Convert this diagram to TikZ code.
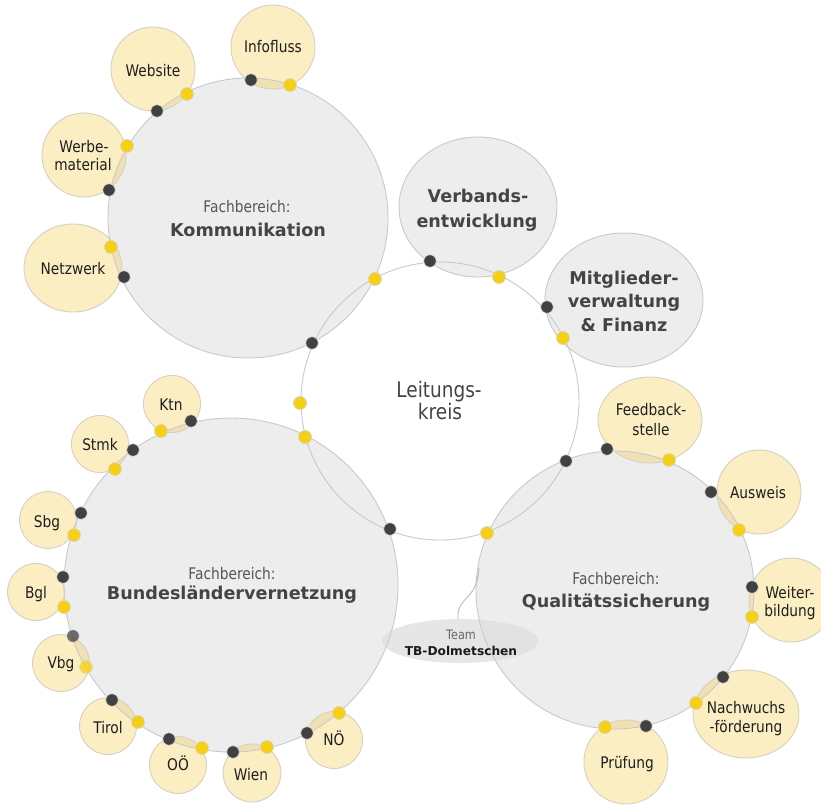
\documentclass[tikz,border=0pt]{standalone}
\usepackage{fontspec}
\setmainfont{DejaVu Sans}
\newfontfamily\regf[FakeStretch=0.86]{DejaVu Sans}
\usetikzlibrary{shapes.geometric}
\definecolor{mainfill}{HTML}{EDEDED}
\definecolor{mainline}{HTML}{C9C9C9}
\definecolor{satfill}{HTML}{FCEEC3}
\definecolor{satline}{HTML}{D5D0C2}
\definecolor{lensc}{HTML}{F0E1B5}
\definecolor{dotdark}{HTML}{414141}
\definecolor{dotyel}{HTML}{F5D016}
\definecolor{dotrim}{HTML}{D8D8D8}
\definecolor{tbfill}{HTML}{E0E0E0}
\definecolor{txtdark}{HTML}{444444}
\definecolor{txtmid}{HTML}{555555}
\definecolor{txtsat}{HTML}{1E1E1E}
\definecolor{connc}{HTML}{BBBBBB}
\newcommand\lensat[6]{\begin{scope}\clip (#1) ellipse[x radius=#2pt,y radius=#3pt];\fill[lensc] (#4) ellipse[x radius=#5pt,y radius=#6pt];\end{scope}}
\newcommand\dotD[1]{\path[ddot] (#1) circle[radius=6.2pt];}
\newcommand\dotY[1]{\path[ydot] (#1) circle[radius=6.6pt];}
\begin{document}
\begin{tikzpicture}[x=1pt,y=-1pt,
  ddot/.style={fill=dotdark,draw=dotrim,line width=0.6pt},
  ydot/.style={fill=dotyel,draw=dotrim,line width=0.6pt},
  mainc/.style={draw=mainline,line width=0.9pt},
  satc/.style={draw=satline,line width=0.9pt},
  lab/.style={anchor=base,inner sep=0pt,text=txtsat,font=\regf\fontsize{16}{19}\selectfont},
  fach/.style={anchor=base,inner sep=0pt,text=txtmid,font=\regf\fontsize{16}{19}\selectfont},
  title/.style={anchor=base,inner sep=0pt,text=txtdark,font=\bfseries\fontsize{17.6}{21}\selectfont},
  lkreis/.style={anchor=base,inner sep=0pt,text=txtdark,font=\regf\fontsize{21.5}{23}\selectfont},
  conn/.style={draw=connc,line width=0.9pt}]
\useasboundingbox (0,0) rectangle (821,804);
\clip (0,0) rectangle (821,804);
% centres
\coordinate (K) at (248,218);
\coordinate (L) at (440,401);
\coordinate (V) at (478,207);
\coordinate (M) at (624,300);
\coordinate (B) at (231,585);
\coordinate (Q) at (615,590);
\coordinate (Info) at (273,47);
\coordinate (Web) at (153,69);
\coordinate (Werb) at (84,155);
\coordinate (Netz) at (73,268);
\coordinate (Ktn) at (172,404);
\coordinate (Stmk) at (100,444);
\coordinate (Sbg) at (48,520);
\coordinate (Bgl) at (36,592);
\coordinate (Vbg) at (61,663);
\coordinate (Tirol) at (108,726);
\coordinate (OO) at (178,765);
\coordinate (Wien) at (252,773);
\coordinate (NO) at (334,740);
\coordinate (Feed) at (650,420);
\coordinate (Ausw) at (759,492);
\coordinate (Weit) at (791,600);
\coordinate (Nach) at (746,714);
\coordinate (Pruef) at (626,762);
% main fills
\fill[white] (L) circle[radius=139pt];
\fill[mainfill] (K) circle[radius=140pt];
\fill[mainfill] (B) circle[radius=167pt];
\fill[mainfill] (Q) circle[radius=139pt];
\fill[mainfill] (V) ellipse[x radius=79pt,y radius=70pt];
\fill[mainfill] (M) ellipse[x radius=79pt,y radius=67pt];
\node[ellipse,minimum width=156pt,minimum height=44pt,inner sep=0pt,fill=tbfill,fill opacity=0.8] (team) at (460,641) {};
% satellite fills
\foreach \c in {Info,Web,Werb,Ausw,Weit,Pruef} {\fill[satfill] (\c) circle[radius=42pt];}
\foreach \c in {Ktn,Stmk,Sbg,Bgl,Vbg,Tirol,OO,NO} {\fill[satfill] (\c) circle[radius=28.5pt];}
\fill[satfill] (Wien) circle[radius=29pt];
\fill[satfill] (Netz) ellipse[x radius=49pt,y radius=44pt];
\fill[satfill] (Feed) ellipse[x radius=52pt,y radius=43pt];
\fill[satfill] (Nach) ellipse[x radius=53pt,y radius=44pt];
% overlaps
\lensat{Info}{42}{42}{K}{140}{140}
\lensat{Web}{42}{42}{K}{140}{140}
\lensat{Werb}{42}{42}{K}{140}{140}
\lensat{Netz}{49}{44}{K}{140}{140}
\foreach \c in {Ktn,Stmk,Sbg,Bgl,Vbg,Tirol,OO,NO} {\lensat{\c}{28.5}{28.5}{B}{167}{167}}
\lensat{Wien}{29}{29}{B}{167}{167}
\lensat{Feed}{52}{43}{Q}{139}{139}
\lensat{Ausw}{42}{42}{Q}{139}{139}
\lensat{Weit}{42}{42}{Q}{139}{139}
\lensat{Nach}{53}{44}{Q}{139}{139}
\lensat{Pruef}{42}{42}{Q}{139}{139}
% outlines
\draw[mainc] (K) circle[radius=140pt];
\draw[mainc] (B) circle[radius=167pt];
\draw[mainc] (Q) circle[radius=139pt];
\draw[mainc] (V) ellipse[x radius=79pt,y radius=70pt];
\draw[mainc] (M) ellipse[x radius=79pt,y radius=67pt];
\draw[mainc] (L) circle[radius=139pt];
\foreach \c in {Info,Web,Werb,Ausw,Weit,Pruef} {\draw[satc] (\c) circle[radius=42pt];}
\foreach \c in {Ktn,Stmk,Sbg,Bgl,Vbg,Tirol,OO,NO} {\draw[satc] (\c) circle[radius=28.5pt];}
\draw[satc] (Wien) circle[radius=29pt];
\draw[satc] (Netz) ellipse[x radius=49pt,y radius=44pt];
\draw[satc] (Feed) ellipse[x radius=52pt,y radius=43pt];
\draw[satc] (Nach) ellipse[x radius=53pt,y radius=44pt];
% team connector
\coordinate (qedge) at (479,568);
\draw[conn] (team.95) .. controls (456,596) and (477,602) .. (qedge);
% dots: Kommunikation
\dotD{251,80}\dotY{290,85}
\dotD{157,111}\dotY{187,94}
\dotY{127,146}\dotD{109,190}
\dotY{111,247}\dotD{124,277}
\dotY{375,279}\dotD{312,343}
% Leitungskreis
\dotD{430,261}\dotY{499,277}
\dotD{547,307}\dotY{563,338}
\dotD{566,461}\dotY{487,533}
\dotY{300,403}\dotY{305,437}\dotD{390,529}
% Bundeslaender
\dotY{161,431}\dotD{191,421}
\dotD{133,450}\dotY{115,469}
\dotD{81,513}\dotY{74,535}
\dotD{63,577}\dotY{64,607}
\begin{scope}[opacity=0.75]\dotD{73,636}\dotY{86,667}\end{scope}
\dotD{112,700}\dotY{138,722}
\dotD{169,739}\dotY{202,748}
\dotD{233,752}\dotY{267,747}
\dotD{307,733}\dotY{339,713}
% Qualitaet
\dotD{607,449}\dotY{669,460}
\dotD{711,492}\dotY{739,530}
\dotD{752,587}\dotY{752,617}
\dotD{723,677}\dotY{696,703}
\dotY{605,727}\dotD{646,726}
% texts
\node[fach] (kf) at (247,212) {Fachbereich:};
\node[title] (kt) at (248,236) {Kommunikation};
\node[lkreis] (l1) at (439,397) {Leitungs-};
\node[lkreis] (l2) at (440,419) {kreis};
\node[title] (v1) at (478,202) {Verbands-};
\node[title] (v2) at (477,227) {entwicklung};
\node[title] (m1) at (624,284) {Mitglieder-};
\node[title] (m2) at (624,307) {verwaltung};
\node[title] (m3) at (624,331) {\& Finanz};
\node[fach] (bf) at (232,579) {Fachbereich:};
\node[title] (bt) at (232,599) {Bundesländervernetzung};
\node[fach] (qf) at (616,584) {Fachbereich:};
\node[title] (qt) at (616,607) {Qualitätssicherung};
\node[anchor=base,inner sep=0pt,text=black!60,font=\regf\fontsize{13}{15}\selectfont] (tm1) at (461,639) {Team};
\node[anchor=base,inner sep=0pt,text=black!90,font=\bfseries\fontsize{12.2}{14}\selectfont] (tm2) at (461,655) {TB-Dolmetschen};
\node[lab] (sInfo) at (273,52) {Infofluss};
\node[lab] (sWeb) at (153,76) {Website};
\node[lab] (sWerb1) at (84,152) {Werbe-};
\node[lab] (sWerb2) at (83,170) {material};
\node[lab] (sNetz) at (73,274) {Netzwerk};
\node[lab] (sKtn) at (171,410) {Ktn};
\node[lab] (sStmk) at (100,450) {Stmk};
\node[lab] (sSbg) at (47,527) {Sbg};
\node[lab] (sBgl) at (36,598) {Bgl};
\node[lab] (sVbg) at (61,668) {Vbg};
\node[lab] (sTirol) at (108,733) {Tirol};
\node[lab] (sOO) at (178,770) {OÖ};
\node[lab] (sWien) at (251,780) {Wien};
\node[lab] (sNO) at (334,745) {NÖ};
\node[lab] (sFeed1) at (651,415) {Feedback-};
\node[lab] (sFeed2) at (651,435) {stelle};
\node[lab] (sAusw) at (758,498) {Ausweis};
\node[lab] (sWeit1) at (790,598) {Weiter-};
\node[lab] (sWeit2) at (790,616) {bildung};
\node[lab] (sNach1) at (746,713) {Nachwuchs};
\node[lab] (sNach2) at (746,732) {-förderung};
\node[lab] (sPruef) at (627,768) {Prüfung};
\end{tikzpicture}
\end{document}
